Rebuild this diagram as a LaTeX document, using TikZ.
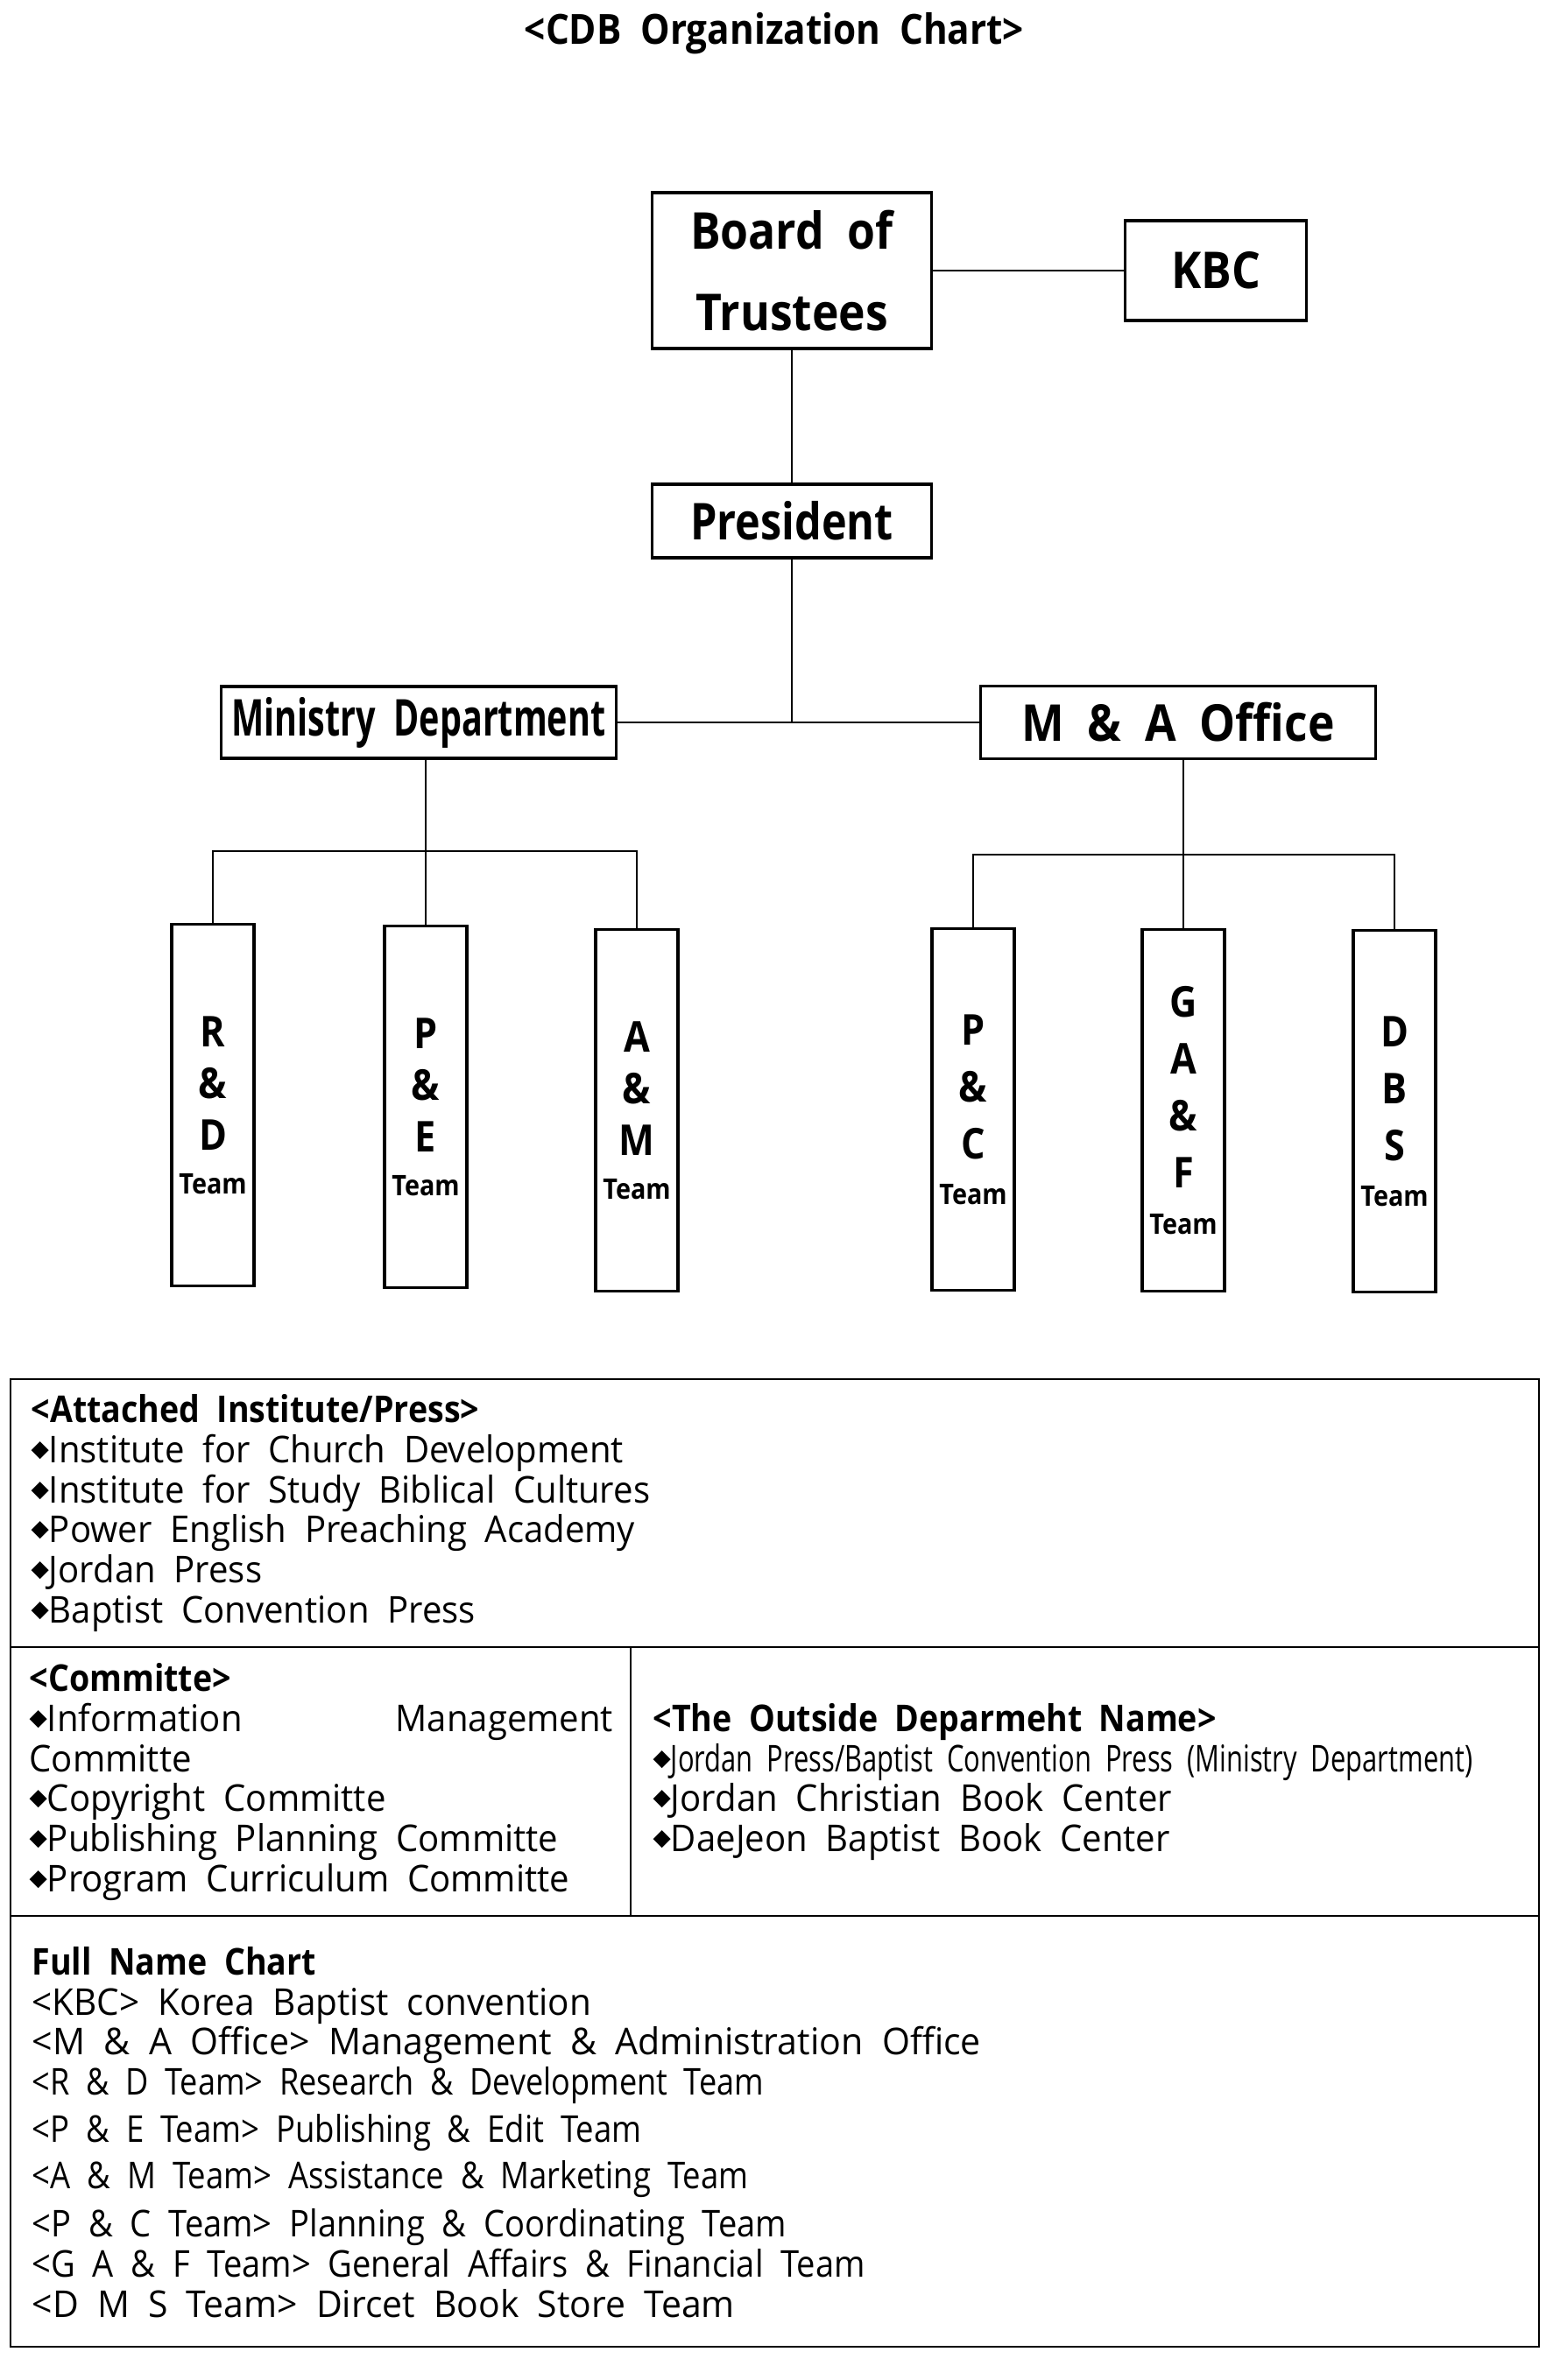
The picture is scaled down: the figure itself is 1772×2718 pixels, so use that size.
\documentclass[tikz,border=0pt]{standalone}
\usepackage{fontspec}
\setmainfont[FakeStretch=0.95,WordSpace=2,BoldFeatures={FakeStretch=0.89}]{Open Sans}
\newfontfamily\symfont{DejaVu Sans}
\usepackage{graphicx}
\usepackage{tikz}
\setlength{\parindent}{0pt}
\newcommand{\bul}{{\symfont\fontsize{7.5}{7.5}\selectfont\raisebox{2pt}{◆}}}
\newcommand{\teamfont}{\fontsize{9.2}{10}\selectfont}

\begin{document}
\begin{tikzpicture}[x=0.01cm,y=-0.01cm,
	box/.style={draw,line width=0.9pt,inner sep=0pt,align=center,font=\bfseries\fontsize{16.5}{26.5}\selectfont},
	teambox/.style={draw,line width=0.9pt,inner sep=0pt,align=center,minimum width=0.94cm,minimum height=4.12cm,font=\bfseries\fontsize{13.8}{#1}\selectfont},
	link/.style={line width=0.5pt},
	frame/.style={line width=0.8pt},
	listtext/.style={inner sep=0pt,align=left,font=\fontsize{12}{13}\selectfont}]
			\useasboundingbox(0,0)rectangle(1772,2718);
			\node[font=\bfseries\fontsize{13.5}{16}\selectfont](title)at(884,38){<CDB Organization Chart>};
			% top of the chart
			\node[box,minimum width=3.19cm,minimum height=1.78cm](board)at(904,309){Board of\\Trustees};
			\node[box,minimum width=2.07cm,minimum height=1.14cm](kbc)at(1388,309){KBC};
			\node[box,minimum width=3.19cm,minimum height=0.84cm](pres)at(904,595){\scalebox{0.94}[1]{President}};
			\node[box,minimum width=4.50cm,minimum height=0.82cm](mdept)at(478,825){\scalebox{0.765}[1]{Ministry Department}};
			\node[box,minimum width=4.50cm,minimum height=0.83cm](maoff)at(1345,825){M \& A Office};
			% teams
			\node[teambox=16.8pt](rd)at(243,1262){R\\\&\\D\\[-2.6pt]{\teamfont Team}};
			\node[teambox=16.8pt](pe)at(486,1264){P\\\&\\E\\[-2.6pt]{\teamfont Team}};
			\node[teambox=16.8pt](am)at(727,1268){A\\\&\\M\\[-2.6pt]{\teamfont Team}};
			\node[teambox=18.5pt](pc)at(1111,1267){P\\\&\\C\\[-3.7pt]{\teamfont Team}};
			\node[teambox=18.5pt](gaf)at(1351,1268){G\\A\\\&\\F\\[-3.7pt]{\teamfont Team}};
			\node[teambox=18.5pt](dbs)at(1592,1269){D\\B\\S\\[-3.7pt]{\teamfont Team}};
			\coordinate(lbar)at(0,972);
			\coordinate(rbar)at(0,976);
			\draw[line width=0.6pt](board)--(kbc);
			\draw[link](board)--(pres);
			\draw[link](pres)--(pres|-maoff);
			\draw[link](mdept)--(maoff);
			\draw[link](pe)--(pe|-mdept.south);
			\draw[link](rd.north)--(rd.north|-lbar)--(am.north|-lbar)--(am.north);
			\draw[link](gaf)--(gaf|-maoff.south);
			\draw[link](pc.north)--(pc.north|-rbar)--(dbs.north|-rbar)--(dbs.north);
			% table below
			\draw[frame](12,1575)rectangle(1757,2680);
			\draw[frame](12,1881)--(1757,1881);
			\draw[frame](12,2188)--(1757,2188);
			\draw[link](720,1881)--(720,2188);
			\node[listtext,anchor=west](attached)at(35,1728){\textbf{<Attached Institute/Press>}\\\bul Institute for Church Development\\\bul Institute for Study Biblical Cultures\\\bul Power English Preaching Academy\\\bul Jordan Press\\\bul Baptist Convention Press};
			\node[listtext,anchor=west,text width=6.66cm,align=justify](committe)at(33,2035){\textbf{<Committe>}\par\bul Information Management\linebreak Committe\par\bul Copyright Committe\par\bul Publishing Planning Committe\par\bul Program Curriculum Committe};
			\node[listtext,anchor=west](outside)at(745,2035){\textbf{<The Outside Deparmeht Name>}\\\bul\scalebox{0.77}[1]{Jordan Press/Baptist Convention Press (Ministry Department)}\\\bul Jordan Christian Book Center\\\bul DaeJeon Baptist Book Center};
			\node[listtext,anchor=west](fullname)at(36,2435){\textbf{Full Name Chart}\\\scalebox{1.01}[1]{<KBC> Korea Baptist convention}\\\scalebox{1.025}[1]{<M \& A Office> Management \& Administration Office}\\\scalebox{0.9}[1]{<R \& D Team> Research \& Development Team}\\[2.3pt]\scalebox{0.91}[1]{<P \& E Team> Publishing \& Edit Team}\\[2pt]\scalebox{0.91}[1]{<A \& M Team> Assistance \& Marketing Team}\\[2.8pt]\scalebox{0.95}[1]{<P \& C Team> Planning \& Coordinating Team}\\\scalebox{0.95}[1]{<G A \& F Team> General Affairs \& Financial Team}\\\scalebox{1.02}[1]{<D M S Team> Dircet Book Store Team}};
		\end{tikzpicture}
\end{document}
